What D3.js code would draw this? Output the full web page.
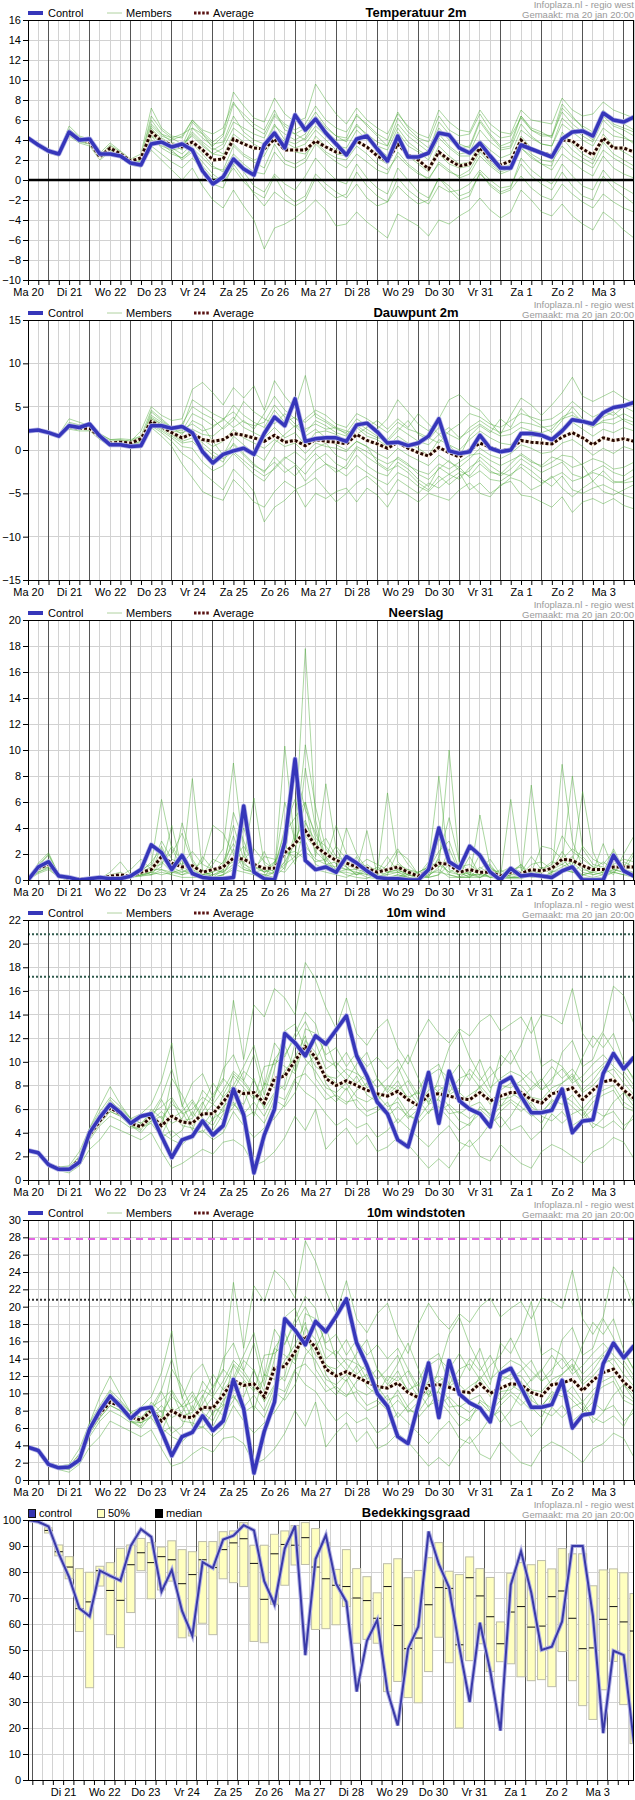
<!DOCTYPE html>
<html><head><meta charset="utf-8">
<script src="https://cdn.jsdelivr.net/npm/d3@7"></script>
<style>
body{margin:0;background:#fff;}
svg{display:block;font-family:"Liberation Sans",Arial,sans-serif;}
</style></head><body>
<svg id="c" width="635" height="1800"></svg>
<script>
// ---------------- DATA ----------------
const dayLabels = ["Ma 20","Di 21","Wo 22","Do 23","Vr 24","Za 25","Zo 26","Ma 27","Di 28","Wo 29","Do 30","Vr 31","Za 1","Zo 2","Ma 3"];
const headerLines = ["Infoplaza.nl - regio west","Gemaakt: ma 20 jan 20:00"];
const titles = ["Temperatuur 2m","Dauwpunt 2m","Neerslag","10m wind","10m windstoten","Bedekkingsgraad"];

const tempTicks = [-10,-8,-6,-4,-2,0,2,4,6,8,10,12,14,16];
const dewTicks = [-15,-10,-5,0,5,10,15];
const precipTicks = [0,2,4,6,8,10,12,14,16,18,20];
const windTicks = [0,2,4,6,8,10,12,14,16,18,20,22];
const gustTicks = [0,2,4,6,8,10,12,14,16,18,20,22,24,26,28,30];
const cloudTicks = [0,10,20,30,40,50,60,70,80,90,100];

const windThresholds = [20.8,17.2];
const gustThresholdMagenta = 27.8;
const gustThresholdBlack = 20.8;

const tempControl = [4.2,3.5,2.9,2.6, 4.8,4.0,4.1,2.6, 2.6,2.4,1.7,1.5, 3.6,3.8,3.3,3.6, 3.0,0.9,-0.4,0.3, 2.1,1.1,0.5,3.5, 4.7,3.2,6.5,5.0, 6.1,4.7,3.6,2.5, 4.1,4.4,3.1,1.9, 4.4,2.3,2.3,2.7, 4.7,4.5,3.2,2.7, 3.7,2.4,1.2,1.2, 3.5,3.1,2.7,2.3, 4.1,4.8,4.9,4.4, 6.7,6.0,5.8,6.3];
const tempAverage = [4.2,3.5,2.9,2.6, 4.7,4.1,3.8,2.3, 3.2,2.6,1.9,2.2, 4.8,3.9,3.5,3.3, 3.8,3.0,2.0,2.1, 4.1,3.6,3.2,3.1, 4.1,3.0,3.0,3.0, 3.9,3.3,2.8,2.7, 3.9,3.3,2.4,1.9, 3.6,2.5,2.0,1.1, 2.8,2.0,1.4,1.6, 3.2,2.1,1.5,1.9, 4.0,3.0,2.7,2.5, 4.0,3.9,3.1,2.5, 4.2,3.2,3.2,2.8];
const tempMembers = [
 [4.3,3.6,3.0,2.7, 5.4,4.4,4.1,2.7, 3.7,2.9,2.1,2.6, 7.2,5.2,4.4,4.2, 6.0,4.8,3.8,4.6, 8.8,7.4,6.2,5.8, 8.2,6.6,5.8,6.2, 9.6,8.0,6.6,5.6, 7.2,6.0,5.2,4.6, 6.6,5.4,4.6,4.2, 7.0,5.8,5.0,4.8, 7.0,5.6,4.8,4.6, 7.0,6.0,5.8,5.6, 8.2,7.0,6.4,6.6, 7.8,7.0,6.6,6.2],
 [4.1,3.4,2.8,2.5, 4.6,4.0,3.7,2.2, 3.0,2.5,1.7,1.9, 5.6,4.6,3.8,3.4, 4.8,3.8,3.0,3.6, 5.8,5.2,4.6,4.2, 6.4,5.4,4.6,4.0, 5.4,4.4,3.4,3.2, 5.0,4.0,3.2,2.4, 4.8,3.4,2.8,2.0, 4.2,3.2,2.4,2.4, 4.0,3.0,2.2,2.6, 5.0,4.2,3.6,3.4, 5.6,4.8,4.0,3.4, 5.2,4.4,4.2,3.8],
 [4.2,3.4,2.8,2.4, 4.6,3.8,3.6,2.2, 3.0,2.5,1.6,1.5, 3.0,2.0,1.0,0.0, 1.2,-0.6,-2.0,-2.8, -1.0,-2.6,-4.0,-6.9, -4.8,-4.4,-3.8,-3.0, -2.0,-3.0,-4.6,-4.4, -3.2,-4.2,-5.0,-5.8, -3.4,-4.0,-4.6,-5.6, -4.0,-4.4,-3.6,-3.0, -1.8,-3.0,-3.8,-3.2, -1.0,-2.0,-3.2,-3.6, -2.4,-3.6,-4.4,-5.0, -3.2,-4.0,-5.0,-5.8],
 [4.0,3.3,2.7,2.4, 4.4,3.7,3.4,2.0, 2.8,2.3,1.5,1.3, 3.4,2.6,1.8,1.2, 2.2,1.0,-0.4,-0.8, 1.6,0.2,-1.4,-2.6, -1.2,-2.0,-2.6,-2.0, 0.2,-1.0,-1.8,-1.4, 0.8,-0.6,-1.6,-2.2, 0.2,-1.0,-1.8,-2.4, -0.6,-1.2,-1.0,-0.4, 1.0,0.0,-0.8,-0.6, 1.6,0.4,-0.4,-1.0, 0.8,-0.6,-1.6,-2.0, 0.4,-0.8,-1.6,-2.4],
 [4.2,3.5,2.9,2.6, 4.9,4.2,3.9,2.4, 3.4,2.7,2.0,2.3, 6.0,4.6,4.2,4.6, 5.2,4.2,3.4,4.4, 7.6,6.6,5.6,5.0, 7.0,5.0,4.6,5.2, 6.8,5.4,4.4,4.2, 6.6,5.4,4.4,3.4, 5.6,4.4,3.6,2.8, 5.8,4.6,3.6,3.2, 5.8,4.4,3.2,3.4, 6.4,5.2,4.8,4.2, 7.2,6.2,5.4,4.8, 6.8,5.6,5.2,4.8],
 [4.2,3.5,2.9,2.6, 4.7,4.1,3.8,2.3, 3.2,2.6,1.9,2.1, 4.6,3.8,3.2,2.6, 3.6,2.6,1.4,0.8, 2.6,1.6,0.8,0.6, 2.8,1.6,1.2,1.8, 3.6,2.6,1.8,1.2, 2.6,1.8,1.0,0.6, 2.8,1.6,0.8,0.0, 1.8,1.0,0.2,0.6, 2.4,1.4,0.6,1.0, 3.2,2.4,1.6,1.0, 2.6,1.8,1.0,0.4, 2.4,1.2,0.6,0.2],
 [4.3,3.6,3.0,2.7, 5.1,4.3,3.9,2.5, 3.5,2.8,2.0,2.3, 5.0,4.2,3.6,3.4, 5.8,4.6,3.6,3.8, 6.4,4.8,4.0,3.6, 5.6,4.0,3.6,4.2, 6.0,4.8,4.0,4.0, 5.4,4.6,3.8,3.4, 6.2,4.8,4.0,3.2, 5.2,4.0,3.2,3.4, 6.0,4.6,3.4,3.8, 6.4,5.0,4.4,4.4, 7.6,6.4,5.2,4.4, 7.0,6.0,5.6,5.0],
 [4.1,3.4,2.8,2.5, 4.5,3.9,3.6,2.1, 3.0,2.4,1.7,1.8, 4.4,3.2,2.6,2.2, 3.2,2.2,1.2,1.0, 3.4,2.4,1.8,1.2, 3.6,2.0,1.6,2.2, 4.4,3.4,2.6,2.4, 4.2,3.2,2.2,1.6, 3.8,2.6,1.8,1.2, 3.4,2.4,1.6,1.8, 3.8,2.4,1.6,2.0, 4.4,3.2,2.6,2.2, 4.2,3.0,2.2,1.6, 3.8,2.6,2.0,1.4],
 [4.2,3.5,2.9,2.5, 4.8,4.0,3.7,2.3, 3.3,2.7,1.8,2.0, 5.2,4.0,3.0,2.0, 2.8,1.4,0.2,0.0, 2.2,0.8,-0.6,-1.2, 0.6,-0.4,-1.0,0.4, 2.2,1.0,0.0,-0.4, 1.6,0.2,-0.8,-1.4, 1.2,0.0,-1.2,-1.8, 0.2,-0.6,-1.6,-1.2, 0.6,-0.4,-1.2,-0.8, 2.2,1.0,0.2,-0.4, 1.6,0.4,-0.6,-1.0, 1.0,-0.2,-0.8,-1.4],
 [4.2,3.5,2.9,2.6, 4.6,4.0,3.8,2.4, 3.1,2.6,1.8,2.0, 4.0,3.4,3.0,3.2, 4.6,3.6,2.6,3.2, 5.2,4.4,3.6,3.0, 4.8,3.8,3.2,3.6, 5.0,4.0,3.0,2.6, 4.0,3.4,2.6,2.0, 3.6,2.4,1.6,0.8, 2.6,1.6,1.2,1.4, 3.0,1.8,1.0,1.6, 3.8,2.6,2.0,1.8, 3.4,2.4,1.8,1.2, 3.0,2.2,1.6,1.0],
 [4.2,3.5,2.9,2.6, 4.8,4.1,3.9,2.4, 3.3,2.7,2.0,2.2, 5.4,4.4,4.0,4.4, 6.0,5.0,4.6,5.2, 7.8,6.2,5.2,4.6, 6.6,5.6,5.0,5.6, 7.4,6.0,5.2,4.8, 6.4,5.6,4.6,4.0, 6.8,5.2,4.2,3.8, 6.4,5.0,4.4,4.6, 6.6,5.0,4.2,4.4, 6.2,5.0,4.6,4.4, 6.8,5.6,4.8,4.0, 6.4,5.4,5.0,4.4],
 [4.2,3.4,2.8,2.5, 4.6,3.9,3.7,2.3, 3.2,2.5,1.8,2.0, 4.8,3.6,2.8,2.2, 3.0,1.8,0.6,-0.2, 1.2,-0.2,-1.2,-1.8, 0.4,-1.4,-2.2,-1.6, 0.6,-0.4,-1.2,-1.8, -0.4,-1.8,-2.6,-2.2, -0.6,-1.6,-2.4,-2.0, 0.2,-1.0,-2.0,-1.6, 0.8,-0.6,-1.4,-1.0, 0.4,-0.8,-1.6,-2.0, -0.4,-1.4,-2.2,-2.8, -1.4,-2.2,-2.8,-3.2],
 [4.3,3.6,3.0,2.7, 5.0,4.2,3.9,2.5, 3.4,2.8,2.0,2.3, 6.4,5.0,4.2,3.6, 4.4,3.4,2.6,2.4, 4.6,3.8,3.0,3.4, 5.4,4.6,4.0,4.6, 6.4,5.2,4.4,3.8, 5.6,4.4,3.4,3.0, 5.2,3.8,3.0,2.4, 4.6,3.4,2.6,2.8, 5.0,3.8,3.0,3.2, 5.6,4.4,3.6,3.4, 6.2,5.2,4.4,3.8, 6.0,5.0,4.4,3.6],
 [4.1,3.4,2.8,2.5, 4.7,4.0,3.7,2.2, 3.1,2.5,1.8,2.1, 4.4,3.8,3.6,3.0, 5.2,4.6,3.2,2.6, 3.6,2.6,2.0,2.4, 4.4,3.4,2.8,2.6, 3.8,2.8,2.2,2.0, 3.4,2.6,1.6,1.0, 2.4,1.4,0.6,0.2, 1.6,0.8,0.4,1.0, 2.8,1.6,0.8,1.2, 3.2,2.2,1.6,1.4, 4.8,3.6,2.6,2.0, 4.6,3.4,2.8,2.2]
];

const dewControl = [2.2,2.3,2.0,1.6, 2.8,2.6,3.0,1.6, 0.6,0.6,0.4,0.5, 2.8,2.8,2.5,2.7, 2.0,-0.2,-1.5,-0.5, -0.1,0.2,-0.5,1.9, 3.8,2.8,5.9,1.0, 1.3,1.4,1.4,1.0, 2.9,3.1,2.1,0.8, 0.9,0.5,0.8,1.6, 3.6,-0.1,-0.4,-0.2, 1.7,0.2,-0.2,0.0, 1.9,1.9,1.7,1.2, 2.2,3.5,3.3,3.0, 4.3,4.9,5.1,5.5];
const dewAverage = [2.2,2.3,2.0,1.7, 2.7,2.5,2.5,1.5, 0.8,0.9,0.8,1.3, 3.3,2.7,2.0,1.4, 1.9,1.2,1.0,1.2, 1.9,1.7,1.4,1.0, 1.7,0.9,1.1,0.5, 1.2,1.0,0.9,0.7, 1.8,1.1,0.7,0.2, 0.9,0.2,-0.3,-0.7, 0.3,-0.3,-0.8,0.0, 0.8,0.3,-0.1,0.1, 1.1,0.9,0.8,0.7, 1.5,2.0,1.4,0.6, 1.4,1.1,1.3,1.0];
const dewMembers = [
 [2.3,2.4,2.1,1.8, 3.6,3.2,2.8,1.8, 1.2,1.2,1.0,2.2, 5.0,4.0,3.4,3.6, 7.0,7.8,6.6,5.2, 7.2,6.0,7.4,4.6, 8.0,6.2,4.8,8.6, 3.8,3.2,2.4,2.0, 3.6,2.8,2.4,3.6, 5.8,4.4,3.0,2.2, 3.6,5.8,6.4,5.2, 4.6,3.2,1.8,4.0, 6.0,5.2,4.0,5.2, 6.6,8.4,6.2,5.6, 6.2,6.8,6.0,5.4],
 [2.1,2.2,1.9,1.6, 2.4,2.2,2.2,1.2, 0.4,0.6,0.4,0.4, 2.6,1.6,0.4,-1.6, -3.2,-4.8,-5.4,-5.8, -3.4,-4.6,-6.0,-6.6, -4.8,-3.6,-4.4,-6.6, -5.0,-5.6,-4.8,-4.4, -6.0,-4.4,-5.2,-6.6, -4.6,-5.2,-6.0,-5.0, -5.4,-5.8,-4.6,-3.8, -5.0,-5.4,-4.0,-3.6, -5.2,-5.4,-6.0,-6.6, -5.4,-7.2,-6.0,-5.6, -6.2,-5.6,-6.4,-6.8],
 [2.2,2.3,2.0,1.7, 2.8,2.6,2.6,1.6, 0.8,0.8,0.6,1.0, 4.4,3.4,2.6,1.8, 3.4,2.8,1.0,-0.6, 1.6,0.6,-0.4,-1.2, 0.8,1.8,2.8,1.6, 2.4,1.4,0.6,0.0, 1.0,0.4,-1.4,-2.2, -0.8,-1.6,-2.8,-3.4, -2.2,-1.2,-2.4,-3.0, -1.6,-2.6,-2.8,-1.6, -0.4,-1.2,-2.0,-1.4, -0.6,-0.8,-1.8,-3.6, -2.4,-3.6,-3.8,-3.6],
 [2.2,2.3,2.0,1.7, 3.0,2.8,2.8,1.4, 0.6,0.7,0.6,0.8, 3.8,3.0,2.4,3.0, 5.0,4.2,3.6,2.4, 3.4,5.6,4.4,3.6, 3.0,4.2,3.0,2.0, 3.4,2.8,2.0,1.6, 3.2,2.4,1.6,1.0, 2.2,3.4,1.8,1.2, 2.6,1.8,1.2,2.6, 3.4,2.6,2.0,2.4, 3.2,3.0,2.6,2.8, 3.6,4.0,3.4,2.8, 3.2,3.0,3.6,3.2],
 [2.1,2.2,1.9,1.6, 2.5,2.4,2.3,1.4, 0.7,0.8,0.7,1.2, 3.0,2.2,1.4,0.4, 0.2,-1.4,-2.4,-1.8, -0.4,-1.6,-2.8,-3.6, -2.0,-0.8,-1.6,-2.8, -1.2,-0.4,-1.6,-2.2, -0.6,-1.8,-2.6,-3.0, -1.4,-2.2,-3.4,-4.2, -2.0,-2.8,-3.4,-2.0, -1.2,-2.4,-3.0,-2.2, -1.0,-1.8,-2.6,-2.0, -1.4,-2.8,-3.2,-2.4, -1.8,-2.6,-3.0,-2.2],
 [2.3,2.4,2.1,1.8, 2.9,2.7,2.7,1.7, 1.0,1.1,1.0,1.6, 3.6,2.8,2.2,2.0, 2.4,1.8,1.6,2.6, 3.8,2.6,2.0,1.4, 2.6,1.4,2.0,0.6, 2.0,2.2,1.8,1.0, 2.6,1.6,1.2,0.4, 1.6,0.8,0.2,-0.6, 1.2,0.6,0.0,1.2, 2.2,1.4,0.8,0.6, 1.8,1.6,1.6,1.4, 2.6,3.2,2.4,1.6, 2.4,2.0,2.6,2.2],
 [2.2,2.3,2.0,1.7, 2.6,2.4,2.4,1.5, 0.9,1.0,0.9,1.4, 3.2,2.6,1.8,1.0, 1.4,0.4,-0.6,-1.4, 0.8,-0.4,-1.6,-2.6, -0.8,-2.0,-3.0,-1.6, -0.4,-1.6,-2.6,-1.8, 0.2,-0.8,-1.6,-2.4, -1.8,-2.6,-3.8,-4.6, -3.0,-4.0,-3.0,-2.4, -0.8,-1.8,-2.6,-3.0, -1.6,-2.4,-3.4,-4.2, -3.0,-4.6,-5.0,-4.4, -4.0,-4.6,-5.2,-5.6],
 [2.2,2.3,2.0,1.7, 3.2,2.9,2.7,1.9, 1.2,1.3,1.2,1.6, 4.6,3.6,2.6,2.4, 3.0,2.2,2.6,3.6, 2.6,3.4,2.4,4.2, 6.2,4.6,3.6,3.2, 4.2,3.4,2.6,2.2, 1.8,2.6,3.4,2.4, 3.6,2.6,4.2,3.0, 1.8,0.6,-0.8,1.6, 2.8,2.0,3.6,2.6, 4.8,3.6,2.8,2.0, 3.4,5.0,3.6,3.0, 3.8,4.4,3.4,2.8],
 [2.2,2.3,2.0,1.6, 2.7,2.5,2.4,1.3, 0.6,0.7,0.7,1.0, 2.8,2.0,1.0,-0.4, -1.2,-2.6,-3.6,-4.6, -2.2,-3.4,-4.8,-8.3, -6.6,-5.8,-4.6,-4.0, -3.2,-4.6,-6.0,-5.0, -3.8,-3.0,-4.0,-5.2, -3.4,-4.2,-5.0,-3.8, -4.4,-3.4,-2.6,-4.6, -3.8,-5.0,-4.2,-3.2, -3.6,-4.6,-4.0,-3.0, -4.4,-5.4,-4.4,-3.6, -4.8,-5.2,-4.6,-4.0],
 [2.2,2.3,2.0,1.7, 2.7,2.5,2.5,1.5, 0.8,0.9,0.8,1.2, 3.4,2.6,2.0,1.4, 2.2,1.2,0.4,1.0, 2.4,1.4,0.8,0.2, 1.2,0.4,0.8,-0.4, 0.8,0.4,0.2,-0.2, 1.0,0.4,-0.4,-1.0, 0.2,-0.6,-1.2,-1.8, -0.6,-1.4,-2.0,-1.0, 0.2,-0.6,-1.0,-0.4, 0.6,0.2,-0.4,-0.2, 0.8,1.2,0.4,-0.6, 0.2,-0.4,0.4,0.0],
 [2.2,2.3,2.0,1.7, 2.8,2.6,2.6,1.6, 0.9,1.0,0.9,1.4, 3.6,3.0,2.4,2.2, 4.2,3.6,2.8,3.4, 5.2,4.0,3.2,2.6, 4.6,3.2,3.8,2.4, 3.0,2.4,2.6,1.8, 2.8,2.0,1.4,1.2, 2.6,1.8,1.0,0.6, 1.8,2.6,1.4,2.2, 3.0,2.2,1.6,1.8, 2.6,2.2,2.0,2.4, 3.8,4.4,3.2,2.6, 3.4,3.6,4.2,3.6],
 [2.1,2.2,1.9,1.6, 2.6,2.4,2.4,1.4, 0.7,0.8,0.7,1.1, 3.0,2.4,1.6,0.8, 1.0,-0.2,-1.0,-0.4, 0.6,-0.6,-1.8,-2.4, -1.4,-2.6,-1.8,-3.6, -2.4,-1.6,-2.2,-3.0, -1.8,-2.6,-3.4,-4.0, -2.6,-3.2,-4.2,-4.8, -3.6,-2.8,-2.0,-3.2, -2.4,-3.4,-3.6,-2.8, -2.0,-3.0,-3.8,-3.2, -2.6,-3.6,-3.2,-2.6, -3.0,-3.8,-3.6,-3.0],
 [2.3,2.4,2.1,1.8, 3.0,2.8,2.7,1.7, 1.0,1.1,1.0,1.5, 4.0,3.2,2.6,2.6, 5.8,5.0,4.2,3.6, 4.4,3.2,2.8,3.2, 5.2,3.8,2.6,3.6, 4.6,4.0,3.0,2.6, 4.2,3.6,2.8,2.0, 3.2,2.4,2.0,1.4, 0.8,2.2,3.0,4.2, 3.8,3.0,2.6,3.4, 4.2,3.8,3.4,3.6, 4.4,5.6,4.6,3.8, 4.4,4.0,5.0,4.4],
 [2.2,2.3,2.0,1.7, 2.6,2.4,2.4,1.4, 0.8,0.8,0.7,1.2, 3.2,2.6,1.8,1.2, 2.0,0.8,-0.2,-1.0, -0.2,-1.2,-2.2,-3.0, -2.2,-1.0,-0.2,-1.2, 0.2,0.8,-0.6,-1.2, 0.4,-0.2,-1.0,-1.6, -1.0,-1.8,-2.4,-2.8, -1.6,-2.2,-1.4,-0.6, -0.4,-1.2,-1.8,-1.2, -0.6,-1.4,-1.8,-0.8, -1.2,-2.0,-1.6,-1.0, -1.4,-2.2,-2.0,-1.4]
];

const precipControl = [0.0,1.0,1.4,0.3, 0.2,0.0,0.1,0.2, 0.1,0.1,0.3,0.8, 2.7,2.1,0.8,1.9, 0.5,0.2,0.1,0.1, 0.2,5.7,0.6,0.1, 0.0,2.9,9.3,1.5, 0.8,1.0,0.6,1.8, 1.3,0.7,0.2,0.1, 0.1,0.0,0.0,0.8, 4.0,1.4,0.9,2.6, 1.9,0.6,0.0,0.9, 0.3,0.4,0.3,0.2, 0.7,1.0,0.0,0.0, 0.0,1.9,0.7,0.3];
const precipAverage = [0.0,0.9,1.2,0.3, 0.1,0.1,0.1,0.1, 0.3,0.4,0.3,0.6, 0.8,1.8,1.3,1.0, 1.1,0.6,0.8,1.0, 1.7,1.6,1.2,0.9, 0.9,2.1,2.8,3.8, 2.6,2.0,1.5,1.3, 1.0,0.9,0.6,0.8, 1.0,0.6,0.3,0.7, 1.3,1.2,0.6,0.8, 0.6,0.6,0.3,0.6, 0.5,0.8,0.7,0.9, 1.6,1.5,1.1,0.8, 0.8,1.0,1.0,1.0];
const precipMembers = [
 [0.0,1.2,1.9,0.4, 0.1,0.0,0.0,0.1, 0.6,1.4,0.4,0.8, 1.2,6.2,2.4,1.0, 0.6,0.3,1.2,2.4, 9.0,2.2,0.6,0.4, 0.2,1.0,3.6,17.8, 4.6,1.6,0.6,0.8, 1.8,0.4,0.2,0.1, 0.4,0.2,0.0,0.3, 1.0,10.0,1.2,0.4, 0.2,0.6,0.1,0.2, 0.4,0.6,0.2,0.4, 8.9,3.0,1.0,0.4, 0.6,1.6,0.8,0.4],
 [0.0,0.8,1.0,0.2, 0.0,0.1,0.1,0.0, 0.2,0.1,0.2,0.4, 0.6,1.0,4.2,0.8, 7.8,0.6,0.2,0.4, 1.0,1.6,6.3,1.2, 0.6,10.3,2.6,6.0, 1.8,7.4,2.4,1.0, 0.4,1.2,0.6,6.7, 1.4,0.6,0.2,1.2, 8.0,0.8,0.4,1.8, 0.4,1.2,0.2,6.2, 0.8,0.2,0.6,1.0, 1.4,8.0,2.4,1.2, 1.0,0.4,2.0,3.4],
 [0.0,1.1,1.4,0.3, 0.2,0.1,0.0,0.0, 0.1,0.2,0.3,0.6, 1.4,2.4,0.8,0.4, 0.8,1.4,4.2,3.6, 2.0,1.4,0.4,0.2, 1.4,2.8,1.2,4.4, 3.0,1.2,0.8,4.0, 2.0,0.8,0.2,0.4, 2.2,1.6,0.4,0.2, 0.4,2.4,0.6,0.2, 1.0,0.4,0.8,0.2, 0.2,7.3,1.0,0.4, 0.8,0.6,0.4,0.6, 2.8,0.8,0.6,0.4],
 [0.0,0.6,0.9,0.2, 0.0,0.0,0.1,0.1, 0.4,0.6,0.2,0.4, 0.4,0.6,0.4,4.4, 1.6,0.4,0.2,0.8, 3.4,1.0,0.6,2.2, 0.4,1.4,8.6,5.4, 3.6,1.8,0.8,0.4, 0.2,0.1,0.6,1.8, 0.6,0.2,0.1,0.4, 3.2,1.6,0.2,0.2, 5.0,1.0,0.2,0.4, 0.6,0.8,0.4,0.4, 0.6,1.2,6.8,2.2, 0.4,1.6,0.6,2.0],
 [0.0,0.9,1.2,0.3, 0.1,0.2,0.1,0.2, 0.2,0.3,0.8,1.6, 0.8,0.8,0.4,0.2, 0.2,0.2,0.4,0.6, 1.2,1.8,1.0,0.6, 0.8,0.6,1.6,2.2, 1.4,1.6,4.2,2.0, 1.4,1.0,0.8,0.6, 0.8,0.4,0.2,0.6, 0.6,0.4,0.2,0.8, 0.4,0.2,0.1,0.4, 0.4,0.6,2.6,2.4, 1.6,0.8,0.2,0.1, 0.2,0.6,0.4,0.2],
 [0.0,0.7,1.3,0.3, 0.0,0.1,0.2,0.0, 0.1,0.2,0.4,0.3, 0.6,0.4,0.6,0.8, 0.4,0.2,0.2,0.4, 0.8,0.6,0.4,0.2, 0.6,2.0,2.2,1.6, 0.8,0.6,0.4,0.2, 0.6,0.2,0.1,0.2, 0.4,0.2,0.0,0.6, 1.6,0.4,0.2,0.2, 0.2,0.4,0.2,0.1, 0.1,0.4,0.6,0.8, 2.2,1.0,0.4,0.6, 0.4,0.8,0.6,0.4],
 [0.0,1.0,2.0,0.4, 0.1,0.0,0.0,0.1, 0.3,0.2,0.2,0.4, 0.8,2.0,1.2,1.6, 0.4,0.8,0.2,0.4, 1.8,4.0,1.4,0.6, 1.0,6.0,3.0,10.4, 5.6,2.4,1.2,0.8, 0.8,3.8,0.4,0.2, 0.2,0.6,0.4,0.2, 1.8,4.8,1.4,0.6, 0.2,0.6,0.2,0.4, 1.2,0.2,0.2,0.6, 1.0,1.4,0.6,0.4, 0.6,2.4,0.8,0.6],
 [0.0,0.5,0.8,0.2, 0.0,0.0,0.0,0.0, 0.2,0.4,0.3,0.8, 0.4,1.4,0.6,0.6, 1.0,0.6,0.4,0.8, 2.4,0.8,0.6,0.8, 0.4,1.2,1.8,2.6, 1.6,1.2,1.4,1.0, 0.4,0.6,0.2,0.6, 0.6,0.4,0.2,0.2, 0.4,1.2,0.6,0.2, 0.6,0.2,0.4,0.2, 0.2,0.4,0.8,1.4, 1.2,1.8,0.8,0.6, 0.8,0.6,1.2,0.8],
 [0.0,0.9,1.6,0.3, 0.1,0.0,0.1,0.1, 0.3,0.5,0.2,0.6, 1.0,3.0,1.6,1.2, 2.2,1.2,0.8,0.6, 1.6,2.6,1.2,0.6, 1.2,3.6,4.8,6.0, 3.2,2.6,1.6,1.2, 0.8,0.6,0.4,1.2, 2.4,1.2,0.4,0.8, 2.2,3.0,0.8,0.4, 0.4,0.8,0.6,1.0, 0.6,1.8,0.8,1.2, 3.4,2.2,1.6,1.0, 0.8,1.2,1.6,1.4],
 [0.0,0.8,1.1,0.2, 0.1,0.1,0.0,0.1, 0.2,0.3,0.4,0.6, 0.6,1.6,2.0,3.6, 1.4,0.4,0.6,1.4, 2.8,1.2,0.8,1.8, 1.6,0.8,3.2,4.6, 2.2,1.4,2.6,1.6, 1.2,0.4,1.0,0.6, 0.8,0.4,0.6,1.0, 1.2,0.6,1.0,1.2, 0.6,0.2,0.4,0.8, 1.0,0.4,0.2,0.6, 1.8,0.6,1.2,0.8, 1.4,0.8,1.0,2.2],
 [0.0,1.3,2.1,0.4, 0.1,0.1,0.1,0.1, 0.4,0.2,0.3,0.4, 0.6,2.6,1.0,0.6, 0.8,0.4,1.6,1.2, 4.2,1.6,2.4,1.4, 0.8,4.0,6.2,3.4, 2.4,3.2,1.8,1.4, 1.0,1.6,1.2,0.8, 1.2,0.8,0.6,1.0, 1.4,0.6,0.4,0.6, 0.8,1.6,0.4,0.6, 0.4,1.2,1.4,0.8, 1.6,2.4,1.8,1.0, 0.6,0.8,1.4,1.0],
 [0.0,0.6,1.0,0.2, 0.0,0.1,0.1,0.0, 0.1,0.2,0.2,0.3, 0.4,0.8,0.6,0.4, 0.6,0.4,0.6,1.0, 1.4,0.8,0.6,0.4, 0.6,1.4,2.8,3.0, 1.2,0.8,0.6,0.6, 0.4,0.8,0.4,0.2, 0.2,0.4,0.2,0.4, 0.8,0.2,0.2,0.4, 0.4,0.6,0.2,0.2, 0.2,0.6,1.0,0.6, 0.8,0.6,0.4,0.2, 0.4,0.6,0.4,0.6],
 [0.0,1.0,1.5,0.3, 0.0,0.0,0.1,0.0, 0.2,0.3,0.2,0.6, 1.0,1.2,2.6,1.4, 0.4,1.8,0.8,0.6, 5.2,3.0,1.0,0.8, 1.4,2.2,1.8,8.6, 4.0,1.2,1.0,0.8, 0.6,0.4,0.6,0.4, 0.6,0.8,0.4,1.4, 1.0,1.6,0.8,0.4, 2.0,1.0,0.4,0.6, 1.2,0.4,0.6,0.8, 1.2,0.8,2.6,1.6, 1.2,2.2,0.8,1.0]
];

const windControl = [2.5,2.3,1.3,0.9, 0.9,1.5,4.0,5.3, 6.4,5.7,4.8,5.4, 5.6,3.7,1.9,3.4, 3.7,5.0,3.8,4.6, 7.7,5.5,0.6,3.8, 6.0,12.4,11.6,10.5, 12.2,11.5,12.7,13.9, 10.5,8.8,6.6,5.6, 3.4,2.8,5.8,9.1, 4.8,9.2,6.7,6.0, 5.6,4.5,8.2,8.7, 7.1,5.7,5.7,5.9, 7.7,4.0,5.0,5.1, 9.0,10.7,9.4,10.4];
const windAverage = [2.5,2.3,1.3,1.0, 0.9,1.7,3.8,5.0, 6.1,5.6,4.8,4.5, 5.4,4.6,5.4,4.9, 4.8,5.6,5.6,6.6, 7.7,7.3,7.4,6.5, 8.6,8.8,10.1,11.3, 10.4,8.6,8.0,8.4, 8.0,7.6,7.3,7.1, 7.5,6.8,6.3,7.2, 7.3,7.1,6.9,6.8, 7.4,6.7,7.1,7.4, 7.4,6.8,6.5,7.3, 7.5,7.8,6.8,7.6, 8.3,8.5,7.6,6.9];
const windMembers = [
 [2.6,2.4,1.4,1.1, 1.2,2.4,4.4,6.2, 7.9,6.4,5.2,5.6, 6.4,8.4,11.6,6.2, 8.2,9.0,7.0,8.4, 15.2,10.2,14.8,13.8, 16.2,15.4,14.0,18.4, 17.0,14.6,12.8,15.4, 12.4,11.4,12.8,13.6, 11.2,9.8,12.0,13.6, 12.4,11.6,12.8,12.2, 13.4,14.0,12.6,13.2, 13.8,12.4,14.0,13.8, 13.2,16.2,12.4,11.2, 12.6,16.4,15.6,13.2],
 [2.4,2.2,1.2,0.8, 0.6,1.2,2.6,3.4, 4.6,4.2,3.8,3.4, 4.0,2.4,1.0,1.4, 2.0,2.6,2.2,3.2, 3.4,2.8,1.2,1.6, 2.4,3.6,5.4,4.2, 6.0,2.6,3.6,4.4, 3.0,3.8,2.4,2.8, 3.6,3.0,2.0,1.0, 1.8,1.0,2.4,3.4, 2.0,1.6,3.0,2.2, 1.4,1.0,2.4,3.0, 2.6,2.0,1.4,2.4, 2.8,3.6,3.2,1.8],
 [2.5,2.3,1.3,1.0, 1.0,1.8,3.9,5.4, 6.8,5.8,4.6,4.2, 5.8,4.4,8.6,7.2, 5.4,7.6,6.6,9.4, 10.6,8.4,7.2,6.2, 9.4,12.6,13.2,11.0, 10.2,11.8,9.4,8.4, 9.8,10.8,8.6,7.6, 9.0,10.6,8.6,6.4, 8.6,11.2,12.6,10.4, 8.8,7.4,10.6,9.8, 11.4,13.8,9.6,10.2, 9.6,8.4,10.4,12.2, 11.2,12.4,10.0,8.4],
 [2.5,2.3,1.3,1.0, 0.8,1.6,3.6,4.8, 5.8,5.4,4.6,4.0, 5.0,5.4,3.6,4.2, 5.8,4.6,5.8,5.0, 6.2,7.6,5.4,8.2, 7.8,9.2,10.4,12.2, 8.6,7.4,6.6,7.8, 6.2,5.4,5.8,6.6, 4.8,5.8,6.6,8.2, 7.4,6.2,5.0,4.6, 6.2,5.6,4.4,5.4, 6.8,5.6,4.8,6.4, 7.2,6.6,5.8,4.4, 5.2,6.6,7.4,6.2],
 [2.6,2.4,1.4,1.1, 1.1,2.0,4.2,5.6, 6.6,6.0,5.2,4.8, 5.2,6.8,5.2,5.8, 4.2,6.4,8.2,7.0, 8.0,9.6,11.4,8.0, 11.6,10.4,12.4,14.2, 13.2,10.2,9.6,10.8, 9.2,7.8,8.6,7.4, 8.4,6.8,7.6,9.2, 9.8,7.4,8.6,9.0, 7.8,8.8,9.6,11.0, 9.2,8.4,7.6,8.2, 10.8,11.8,9.6,10.2, 12.4,11.0,9.2,8.0],
 [2.4,2.2,1.2,0.9, 0.8,1.4,3.4,4.6, 5.4,5.0,4.4,4.4, 4.8,3.6,4.2,3.4, 3.6,4.8,4.2,5.6, 6.6,5.2,5.8,4.8, 6.8,6.2,7.4,9.6, 10.6,8.2,7.0,6.4, 7.6,8.2,6.4,5.8, 7.0,5.6,4.8,5.8, 6.2,5.2,4.2,4.8, 5.6,4.6,5.8,6.6, 5.8,6.6,5.4,5.0, 5.8,4.6,5.2,6.0, 5.4,5.8,4.6,5.2],
 [2.5,2.3,1.3,1.0, 0.9,1.8,4.0,5.2, 6.4,5.8,5.0,4.6, 6.0,5.2,6.4,5.8, 6.8,5.4,6.4,7.6, 9.2,8.4,10.6,7.2, 10.2,11.4,9.2,12.8, 12.4,10.6,11.2,9.6, 10.8,9.6,10.4,9.4, 10.2,8.6,7.2,8.8, 9.4,8.6,9.8,8.4, 10.2,7.8,8.6,9.2, 8.8,7.6,8.4,9.6, 8.6,9.4,8.2,9.0, 9.8,10.6,9.8,8.6],
 [2.5,2.3,1.3,1.0, 0.9,1.6,3.7,4.9, 6.0,5.6,4.8,4.4, 5.4,4.0,3.4,3.0, 3.8,4.2,3.4,4.0, 5.8,4.6,3.6,4.4, 5.2,6.4,8.4,7.4, 6.8,5.6,4.6,5.2, 4.4,4.8,3.6,4.2, 5.2,4.4,3.6,2.8, 3.8,4.6,3.2,2.8, 3.6,4.8,5.4,4.2, 4.6,3.4,4.2,5.6, 4.8,5.6,6.0,4.8, 4.4,5.0,4.2,5.6],
 [2.5,2.3,1.3,1.0, 1.0,1.7,3.8,5.1, 6.2,5.6,4.8,4.6, 5.6,7.0,9.4,6.4, 4.6,5.8,7.2,8.6, 7.6,9.2,8.4,6.8, 8.4,7.6,9.8,11.2, 9.6,9.0,8.2,7.6, 8.8,7.2,6.6,8.0, 7.6,8.4,6.8,5.6, 7.0,8.6,7.4,6.6, 8.0,7.0,6.2,7.4, 6.8,7.8,8.6,7.2, 8.2,9.0,7.6,8.4, 9.6,8.8,7.4,6.6],
 [2.5,2.3,1.3,1.0, 0.9,1.6,3.8,5.0, 6.0,5.6,4.8,4.4, 5.0,5.8,4.8,5.2, 6.6,5.2,4.6,6.2, 7.0,6.4,8.6,6.0, 7.4,8.0,11.6,10.2, 9.2,7.8,7.4,8.2, 7.0,6.6,7.2,6.2, 6.6,5.2,6.0,7.0, 5.8,6.4,5.6,6.2, 6.6,5.4,6.8,7.0, 7.6,6.2,5.6,6.8, 6.4,7.2,6.0,7.0, 7.6,8.0,6.6,6.0],
 [2.6,2.4,1.4,1.1, 1.0,2.0,4.4,5.8, 7.0,6.2,5.2,4.8, 5.6,4.8,6.8,5.0, 5.2,6.6,5.0,7.2, 8.8,7.8,6.8,9.6, 9.8,10.6,12.0,13.4, 11.6,9.4,10.0,9.0, 8.2,9.0,7.8,8.6, 9.6,7.6,6.4,7.6, 8.0,7.2,7.8,9.4, 8.4,9.6,8.0,7.8, 8.4,9.2,7.6,8.6, 9.4,8.2,8.8,9.8, 10.6,9.6,8.8,7.6],
 [2.4,2.2,1.2,0.9, 0.8,1.5,3.6,4.8, 5.8,5.4,4.6,4.4, 5.2,3.8,5.6,4.6, 4.4,4.0,5.2,5.8, 6.4,5.6,6.6,5.4, 7.2,6.8,8.6,9.0, 8.0,6.8,7.2,6.6, 6.8,5.8,6.2,5.4, 6.2,5.4,5.2,6.4, 6.8,5.6,5.8,5.2, 6.0,5.2,6.2,6.8, 6.2,5.4,5.8,6.6, 7.0,6.2,5.4,6.6, 7.2,7.6,6.2,5.8],
 [2.5,2.3,1.3,1.0, 0.9,1.7,3.9,5.0, 6.2,5.6,4.9,4.6, 5.6,6.2,7.0,5.6, 6.0,7.0,6.4,5.8, 9.0,8.2,7.0,7.8, 10.2,9.6,9.0,11.8, 10.8,8.8,8.6,9.4, 9.0,8.4,7.0,7.2, 8.0,7.0,7.4,6.6, 7.6,8.2,6.6,7.2, 7.8,6.4,7.6,8.2, 8.0,7.0,6.8,7.8, 8.2,8.8,7.4,8.0, 9.0,9.4,8.2,7.2]
];

const gustControl = [3.8,3.4,1.8,1.4, 1.5,2.3,5.9,8.0, 9.7,8.5,7.1,8.2, 8.4,5.6,2.8,5.0, 5.5,7.4,5.7,6.8, 11.6,8.2,0.8,5.6, 9.0,18.6,17.3,15.6, 18.3,17.1,18.9,20.9, 15.8,13.2,10.0,8.5, 5.0,4.2,8.7,13.5, 7.2,13.8,9.9,8.9, 8.3,6.7,12.3,12.9, 10.7,8.4,8.4,8.7, 11.5,6.0,7.5,7.7, 13.4,15.8,14.1,15.5];
const gustAverage = [3.8,3.4,1.9,1.4, 1.5,2.5,5.8,7.7, 9.0,8.5,7.3,6.9, 8.0,6.8,8.0,7.3, 7.2,8.4,8.3,9.8, 11.5,10.9,11.1,9.6, 12.9,13.1,14.8,16.6, 15.3,12.8,12.0,12.5, 11.9,11.3,10.8,10.6, 11.2,10.1,9.5,10.9, 11.0,10.7,10.2,10.1, 11.1,10.0,10.6,11.1, 11.0,10.1,9.7,11.0, 11.2,11.6,10.3,11.5, 12.4,12.8,11.3,10.3];
const gustMembers = [
 [3.9,3.6,2.0,1.6, 1.8,3.6,6.6,9.6, 12.0,9.8,7.8,8.4, 9.6,12.4,17.2,9.4, 12.2,13.4,10.6,12.6, 22.8,15.2,22.4,20.6, 24.2,23.0,21.0,27.6, 25.2,21.8,19.2,23.0, 18.6,17.0,19.2,20.4, 16.8,14.6,18.0,20.4, 18.6,17.4,19.2,18.2, 20.0,21.0,18.8,19.8, 20.6,18.6,21.0,20.6, 19.8,24.2,18.6,16.8, 18.8,24.6,23.2,19.8],
 [3.6,3.2,1.7,1.2, 0.9,1.8,3.8,5.0, 6.8,6.2,5.6,5.0, 5.8,3.6,1.6,2.0, 3.0,3.8,3.2,4.8, 5.0,4.2,1.8,2.4, 3.6,5.4,8.0,6.2, 9.0,3.8,5.4,6.6, 4.4,5.6,3.6,4.2, 5.4,4.4,3.0,1.6, 2.6,1.6,3.6,5.0, 3.0,2.4,4.4,3.2, 2.0,1.6,3.6,4.4, 3.8,3.0,2.0,3.6, 4.2,5.4,4.8,2.6],
 [3.8,3.5,1.9,1.4, 1.4,2.6,5.8,8.0, 10.2,8.6,6.8,6.2, 8.6,6.6,12.8,10.8, 8.0,11.4,9.8,14.0, 15.8,12.6,10.8,9.2, 14.0,18.8,19.8,16.4, 15.2,17.6,14.0,12.6, 14.6,16.2,12.8,11.4, 13.4,15.8,12.8,9.6, 12.8,16.8,18.8,15.6, 13.2,11.0,15.8,14.6, 17.0,20.6,14.4,15.2, 14.4,12.6,15.6,18.2, 16.8,18.6,15.0,12.6],
 [3.8,3.4,1.9,1.4, 1.2,2.4,5.4,7.2, 8.6,8.0,6.8,6.0, 7.4,8.0,5.4,6.2, 8.6,6.8,8.6,7.4, 9.2,11.4,8.0,12.2, 11.6,13.8,15.6,18.2, 12.8,11.0,9.8,11.6, 9.2,8.0,8.6,9.8, 7.2,8.6,9.8,12.2, 11.0,9.2,7.4,6.8, 9.2,8.4,6.6,8.0, 10.2,8.4,7.2,9.6, 10.8,9.8,8.6,6.6, 7.8,9.8,11.0,9.2],
 [3.9,3.6,2.0,1.6, 1.6,3.0,6.2,8.4, 9.8,9.0,7.8,7.2, 7.8,10.2,7.8,8.6, 6.2,9.6,12.2,10.4, 11.8,14.4,17.0,12.0, 17.4,15.6,18.6,21.2, 19.8,15.2,14.4,16.2, 13.8,11.6,12.8,11.0, 12.6,10.2,11.4,13.8, 14.6,11.0,12.8,13.4, 11.6,13.2,14.4,16.4, 13.8,12.6,11.4,12.2, 16.2,17.6,14.4,15.2, 18.6,16.4,13.8,12.0],
 [3.6,3.3,1.8,1.3, 1.2,2.0,5.0,6.8, 8.0,7.4,6.6,6.6, 7.2,5.4,6.2,5.0, 5.4,7.2,6.2,8.4, 9.8,7.8,8.6,7.2, 10.2,9.2,11.0,14.4, 15.8,12.2,10.4,9.6, 11.4,12.2,9.6,8.6, 10.4,8.4,7.2,8.6, 9.2,7.8,6.2,7.2, 8.4,6.8,8.6,9.8, 8.6,9.8,8.0,7.4, 8.6,6.8,7.8,9.0, 8.0,8.6,6.8,7.8],
 [3.8,3.4,1.9,1.4, 1.4,2.6,6.0,7.8, 9.6,8.6,7.4,6.8, 9.0,7.8,9.6,8.6, 10.2,8.0,9.6,11.4, 13.8,12.6,15.8,10.8, 15.2,17.0,13.8,19.2, 18.6,15.8,16.8,14.4, 16.2,14.4,15.6,14.0, 15.2,12.8,10.8,13.2, 14.0,12.8,14.6,12.6, 15.2,11.6,12.8,13.8, 13.2,11.4,12.6,14.4, 12.8,14.0,12.2,13.4, 14.6,15.8,14.6,12.8],
 [3.7,3.4,1.9,1.4, 1.3,2.4,5.6,7.4, 9.0,8.4,7.2,6.6, 8.0,6.0,5.0,4.4, 5.6,6.2,5.0,6.0, 8.6,6.8,5.4,6.6, 7.8,9.6,12.6,11.0, 10.2,8.4,6.8,7.8, 6.6,7.2,5.4,6.2, 7.8,6.6,5.4,4.2, 5.6,6.8,4.8,4.2, 5.4,7.2,8.0,6.2, 6.8,5.0,6.2,8.4, 7.2,8.4,9.0,7.2, 6.6,7.4,6.2,8.4],
 [3.8,3.4,1.9,1.4, 1.5,2.6,5.8,7.8, 9.2,8.4,7.2,7.0, 8.4,10.4,14.0,9.6, 7.0,8.8,10.8,12.8, 11.4,13.8,12.6,10.2, 12.6,11.4,14.6,16.8, 14.4,13.4,12.2,11.4, 13.2,10.8,9.8,12.0, 11.4,12.6,10.2,8.4, 10.4,12.8,11.0,9.8, 12.0,10.4,9.2,11.0, 10.2,11.6,12.8,10.8, 12.2,13.4,11.4,12.6, 14.4,13.2,11.0,9.8],
 [3.8,3.4,1.9,1.4, 1.4,2.4,5.7,7.6, 9.0,8.4,7.2,6.6, 7.4,8.6,7.2,7.8, 9.8,7.8,6.8,9.2, 10.4,9.6,12.8,9.0, 11.0,12.0,17.4,15.2, 13.8,11.6,11.0,12.2, 10.4,9.8,10.8,9.2, 9.8,7.8,9.0,10.4, 8.6,9.6,8.4,9.2, 9.8,8.0,10.2,10.4, 11.4,9.2,8.4,10.2, 9.6,10.8,9.0,10.4, 11.4,12.0,9.8,9.0],
 [3.9,3.6,2.0,1.6, 1.5,3.0,6.6,8.6, 10.4,9.2,7.8,7.2, 8.4,7.2,10.2,7.4, 7.8,9.8,7.4,10.8, 13.2,11.6,10.2,14.4, 14.6,15.8,18.0,20.0, 17.4,14.0,15.0,13.4, 12.2,13.4,11.6,12.8, 14.4,11.4,9.6,11.4, 12.0,10.8,11.6,14.0, 12.6,14.4,12.0,11.6, 12.6,13.8,11.4,12.8, 14.0,12.2,13.2,14.6, 15.8,14.4,13.2,11.4],
 [3.6,3.3,1.8,1.3, 1.2,2.2,5.4,7.2, 8.6,8.0,6.8,6.6, 7.8,5.6,8.4,6.8, 6.6,6.0,7.8,8.6, 9.6,8.4,9.8,8.0, 10.8,10.2,12.8,13.4, 12.0,10.2,10.8,9.8, 10.2,8.6,9.2,8.0, 9.2,8.0,7.8,9.6, 10.2,8.4,8.6,7.8, 9.0,7.8,9.2,10.2, 9.2,8.0,8.6,9.8, 10.4,9.2,8.0,9.8, 10.8,11.4,9.2,8.6],
 [3.8,3.4,1.9,1.4, 1.4,2.5,5.8,7.4, 9.2,8.4,7.2,6.8, 8.4,9.2,10.4,8.4, 9.0,10.4,9.6,8.6, 13.4,12.2,10.4,11.6, 15.2,14.4,13.4,17.6, 16.2,13.2,12.8,14.0, 13.4,12.6,10.4,10.8, 12.0,10.4,11.0,9.8, 11.4,12.2,9.8,10.8, 11.6,9.6,11.4,12.2, 12.0,10.4,10.2,11.6, 12.2,13.2,11.0,12.0, 13.4,14.0,12.2,10.8]
];

const cloudControl = [100,99.3,97.5,87, 78,66,63,80.5, 78.5,76.7,90,96.5, 93.5,72.5,80.8,65, 55.5,83.8,81.5,92.5, 94,98,96,76.5, 67.5,89,97.8,48, 85,94.2,75.5,68.5, 34,53.5,61.5,34, 21,50.5,59,95.6, 83,74,51,30, 60.5,42,19,75, 88,72,50,51.3, 61,90,90,63, 18,49.7,48,14];
const cloudTop = [null,null,97,90.4, 85.9,81.3,79.9,82.2, 83.6,89.1,90.4,92.9, 91.3,89.6,92,88.6, 87.8,91.7,91.7,95.5, 95.8,99,90.3,90.3, 94.5,95.8,97.9,99, 96.7,91.3,81,88.6, 81.3,78.2,72,83.2, 85.1,77.8,80.6,85.5, 91.3,80.3,79,85.8, 81.3,77.9,60.8,79.5, 83.6,82.8,84.4,81.2, 89,87,87,74.7, 80.8,81.2,79.7,71.7];
const cloudBottom = [null,null,95,86.2, 77.4,57.1,35.5,74.6, 55.9,50.9,64.4,80.5, 69.7,73.1,76.5,54.7, 55.4,60.3,55.9,77.4, 75.9,74.4,53.3,52.8, 67.6,74.9,82.7,82.9, 57.9,58.2,59.7,66.7, 52.6,54.1,52.6,34, 37.9,31.7,29.7,41.7, 54.9,45.1,20,45.9, 52.4,41.7,45.5,44.7, 39.7,38.2,38.6,35.9, 49.4,38.2,28.6,23.3, 34.7,45.6,29,14];
const cloudMedian = [null,null,96,87.8, 81.9,65.9,68.5,80.5, 72.9,69.1,82.8,87.4, 83.6,85.9,84.7,75.5, 79,84.7,81.7,88.6, 91.2,92.8,83.3,69.5, 87,90.6,90.3,93.2, 81.9,77.4,74.9,74.4, 70,69,62.2,74.4, 59.4,50.5,54.6,67.4, 74,73.7,52,77.8, 70.8,62.8,52.4,64.6, 66.7,58.8,59.2,70.5, 72.7,62.2,50.5,50.8, 61.8,66.7,60.8,57.3];

// ---------------- DRAWING ----------------
const svg = d3.select("#c");
const X0 = 28, X1 = 634, TOP = 20, BOT = 280;
const x = d3.scaleLinear().domain([0, 59]).range([X0, X1]);
const idx = d3.range(60);
const COL_CTRL = "#3636ba";
const FONT = '"Liberation Sans", Arial, sans-serif';

function makePanel(k, title, domain, ticks, cloud) {
  const g = svg.append("g").attr("transform", `translate(0,${300 * k})`);
  const y = d3.scaleLinear().domain(domain).range([BOT, TOP]);
  g.append("clipPath").attr("id", "clip" + k)
    .append("rect").attr("x", X0).attr("y", TOP).attr("width", X1 - X0).attr("height", BOT - TOP);

  const gridPos = cloud ? d3.range(59).map(j => 0.42 + j) : idx;
  const dayPos = cloud ? d3.range(15).map(m => 0.42 + 4 * m) : d3.range(15).map(m => 2 + 4 * m);

  const grid = g.append("g").attr("shape-rendering", "crispEdges");
  grid.selectAll(".hg").data(ticks).join("line")
    .attr("x1", X0).attr("x2", X1).attr("y1", d => y(d)).attr("y2", d => y(d))
    .attr("stroke", "#d2d2d2");
  grid.selectAll(".vg").data(gridPos).join("line")
    .attr("x1", d => x(d)).attr("x2", d => x(d)).attr("y1", TOP).attr("y2", BOT)
    .attr("stroke", "#d2d2d2");
  grid.selectAll(".dl").data(dayPos).join("line")
    .attr("x1", d => x(d)).attr("x2", d => x(d)).attr("y1", TOP).attr("y2", BOT)
    .attr("stroke", "#555");

  const ya = g.append("g").attr("transform", `translate(${X0},0)`)
    .call(d3.axisLeft(y).tickValues(ticks).tickSize(5).tickPadding(2).tickFormat(d3.format("d")));
  ya.select(".domain").remove();
  ya.attr("font-family", FONT).attr("font-size", 11);
  ya.selectAll("text").attr("fill", "#000");

  const xa = g.append("g").attr("transform", `translate(0,${BOT})`)
    .call(d3.axisBottom(x).tickValues(gridPos).tickSize(5).tickFormat(""));
  xa.select(".domain").remove();

  const labPos = cloud ? d3.range(1, 15).map(m => 4 * m - 0.58) : d3.range(15).map(m => 4 * m);
  const labTxt = cloud ? d3.range(1, 15).map(m => dayLabels[m]) : dayLabels;
  const xl = g.append("g").attr("transform", `translate(0,${BOT})`)
    .call(d3.axisBottom(x).tickValues(labPos).tickSize(0).tickPadding(8).tickFormat((d, i) => labTxt[i]));
  xl.select(".domain").remove();
  xl.attr("font-family", FONT).attr("font-size", 11);
  xl.selectAll("text").attr("fill", "#000");

  g.append("text").attr("x", 416).attr("y", 16.5).attr("text-anchor", "middle")
    .attr("font-family", FONT).attr("font-size", 13).attr("font-weight", "bold").text(title);
  g.selectAll(".hd").data(headerLines).join("text")
    .attr("x", X1).attr("y", (d, i) => 8 + i * 9.5).attr("text-anchor", "end")
    .attr("font-family", FONT).attr("font-size", 9.5).attr("fill", "#999").text(d => d);

  const lg = g.append("g").attr("font-family", FONT).attr("font-size", 11);
  if (!cloud) {
    lg.append("line").attr("x1", 28).attr("x2", 43).attr("y1", 13).attr("y2", 13).attr("stroke", COL_CTRL).attr("stroke-width", 4);
    lg.append("text").attr("x", 48).attr("y", 17).text("Control");
    lg.append("line").attr("x1", 107).attr("x2", 122).attr("y1", 13).attr("y2", 13).attr("stroke", "#b0d2a0").attr("stroke-width", 1);
    lg.append("text").attr("x", 126).attr("y", 17).text("Members");
    lg.append("line").attr("x1", 194).attr("x2", 209).attr("y1", 13).attr("y2", 13).attr("stroke", "#5a1212").attr("stroke-width", 3).attr("stroke-dasharray", "2.5,1.6");
    lg.append("text").attr("x", 213).attr("y", 17).text("Average");
  } else {
    lg.append("rect").attr("x", 28.5).attr("y", 9.5).attr("width", 7).attr("height", 8).attr("fill", "#3434b0").attr("stroke", "#111");
    lg.append("text").attr("x", 39).attr("y", 17).text("control");
    lg.append("rect").attr("x", 97.5).attr("y", 9.5).attr("width", 7).attr("height", 8).attr("fill", "#ffffc0").attr("stroke", "#555");
    lg.append("text").attr("x", 108).attr("y", 17).text("50%");
    lg.append("rect").attr("x", 155.5).attr("y", 9.5).attr("width", 7).attr("height", 8).attr("fill", "#000").attr("stroke", "#000");
    lg.append("text").attr("x", 166).attr("y", 17).text("median");
  }

  const plot = g.append("g").attr("clip-path", `url(#clip${k})`);
  const over = g.append("g");
  return { g, y, plot, over };
}

function drawEnsemble(p, members, avg, ctrl, extra) {
  const line = d3.line().x((d, i) => x(i)).y(d => p.y(d));
  p.plot.selectAll(".mem").data(members).join("path")
    .attr("d", d => line(d)).attr("fill", "none")
    .attr("stroke", "#4fab3b").attr("stroke-opacity", 0.48).attr("stroke-width", 1);
  if (extra) extra(p);
  p.plot.append("path").attr("d", line(avg)).attr("fill", "none")
    .attr("stroke", "#fbeedd").attr("stroke-width", 3.5);
  p.plot.append("path").attr("d", line(avg)).attr("fill", "none")
    .attr("stroke", "#260600").attr("stroke-width", 3).attr("stroke-dasharray", "3,2");
  p.plot.append("path").attr("d", line(ctrl)).attr("fill", "none")
    .attr("stroke", "#b4b4e6").attr("stroke-width", 5).attr("stroke-linejoin", "round");
  p.plot.append("path").attr("d", line(ctrl)).attr("fill", "none")
    .attr("stroke", COL_CTRL).attr("stroke-width", 3.5).attr("stroke-linejoin", "round");
}

function border(p) {
  p.over.append("rect").attr("x", X0 + 0.5).attr("y", TOP + 0.5).attr("width", X1 - X0 - 1).attr("height", BOT - TOP)
    .attr("fill", "none").attr("stroke", "#000");
}

const p1 = makePanel(0, titles[0], [-10, 16], tempTicks, false);
drawEnsemble(p1, tempMembers, tempAverage, tempControl, p => {
  p.plot.append("line").attr("x1", X0).attr("x2", X1).attr("y1", p.y(0)).attr("y2", p.y(0))
    .attr("stroke", "#000").attr("stroke-width", 2.5);
});
border(p1);

const p2 = makePanel(1, titles[1], [-15, 15], dewTicks, false);
drawEnsemble(p2, dewMembers, dewAverage, dewControl);
border(p2);

const p3 = makePanel(2, titles[2], [0, 20], precipTicks, false);
drawEnsemble(p3, precipMembers, precipAverage, precipControl);
border(p3);

const p4 = makePanel(3, titles[3], [0, 22], windTicks, false);
drawEnsemble(p4, windMembers, windAverage, windControl, p => {
  p.plot.selectAll(".thr").data(windThresholds).join("line")
    .attr("x1", X0).attr("x2", X1).attr("y1", d => p.y(d)).attr("y2", d => p.y(d))
    .attr("stroke", "#2f5a4c").attr("stroke-width", 2).attr("stroke-dasharray", "2,2");
});
border(p4);

const p5 = makePanel(4, titles[4], [0, 30], gustTicks, false);
drawEnsemble(p5, gustMembers, gustAverage, gustControl, p => {
  p.plot.append("line").attr("x1", X0).attr("x2", X1).attr("y1", p.y(gustThresholdMagenta)).attr("y2", p.y(gustThresholdMagenta))
    .attr("stroke", "#e466e4").attr("stroke-width", 2).attr("stroke-dasharray", "7,5");
  p.plot.append("line").attr("x1", X0).attr("x2", X1).attr("y1", p.y(gustThresholdBlack)).attr("y2", p.y(gustThresholdBlack))
    .attr("stroke", "#333").attr("stroke-width", 2).attr("stroke-dasharray", "2,2");
});
border(p5);

const p6 = makePanel(5, titles[5], [0, 100], cloudTicks, true);
const boxIdx = idx.filter(i => cloudTop[i] != null);
p6.plot.selectAll(".box").data(boxIdx).join("rect")
  .attr("x", i => x(i) - 4).attr("width", 8)
  .attr("y", i => p6.y(cloudTop[i])).attr("height", i => p6.y(cloudBottom[i]) - p6.y(cloudTop[i]))
  .attr("fill", "#ffffc0").attr("stroke", "#bdbdaa").attr("stroke-width", 1);
p6.plot.selectAll(".med").data(boxIdx).join("line")
  .attr("x1", i => x(i) - 4).attr("x2", i => x(i) + 4)
  .attr("y1", i => p6.y(cloudMedian[i])).attr("y2", i => p6.y(cloudMedian[i]))
  .attr("stroke", "#111").attr("stroke-width", 1);
const cline = d3.line().x((d, i) => x(i)).y(d => p6.y(d));
p6.plot.append("path").attr("d", cline(cloudControl)).attr("fill", "none")
  .attr("stroke", "#b4b4e4").attr("stroke-width", 4);
p6.plot.append("path").attr("d", cline(cloudControl)).attr("fill", "none")
  .attr("stroke", "#3a3aa8").attr("stroke-width", 2);
border(p6);
</script>
</body></html>
